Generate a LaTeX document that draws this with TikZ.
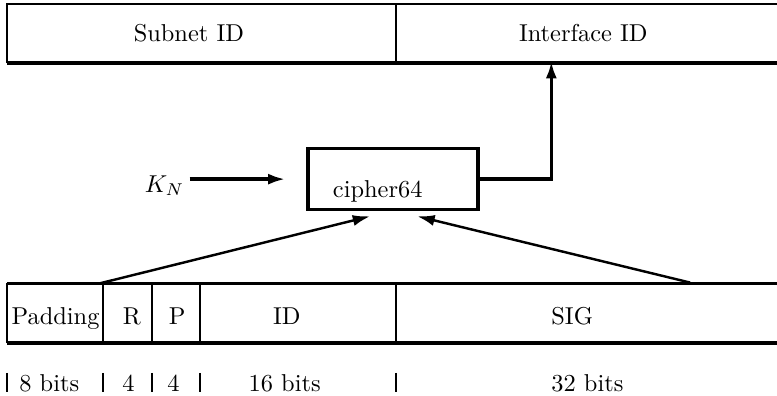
\documentclass[tikz,border=0pt]{standalone}
\usepackage{amsmath}
\usetikzlibrary{arrows.meta}

\begin{document}
\begin{tikzpicture}[
    font=\normalsize,
    >={Latex[length=2.5mm,width=1.6mm]},
    thinline/.style={line width=0.8pt},
    midline/.style={line width=1pt},
    thickline/.style={line width=1.4pt}
]
\useasboundingbox (0,0) rectangle (11.19,-5.69);

% Address - upper field (runs off the right edge)
\draw[thinline] (11.19,-0.06) -- (0.10,-0.06) -- (0.10,-0.91);
\draw[thickline] (0.10,-0.91) -- (11.19,-0.91);
\draw[thinline] (5.70,-0.06) -- (5.70,-0.91);
\node (subnet) at (2.72,-0.48) {Subnet ID};
\node (iface) at (8.40,-0.48) {Interface ID};
\coordinate (ifin) at (7.94,-0.88);

% Input fields - lower field
\draw[thickline] (0.10,-4.08) -- (11.19,-4.08);
\draw[thickline] (0.10,-4.94) -- (11.19,-4.94);
\foreach \x in {0.10,1.48,2.19,2.88,5.70}
    \draw[thinline] (\x,-4.08) -- (\x,-4.94);

\node[anchor=base] (pad) at (0.80,-4.67) {Padding};
\node[anchor=base] (rfield) at (1.90,-4.67) {R};
\node[anchor=base] (pfield) at (2.55,-4.67) {P};
\node[anchor=base] (idfield) at (4.13,-4.67) {ID};
\node[anchor=base] (sig) at (8.24,-4.67) {SIG};

% Bit widths
\foreach \x in {0.10,1.48,2.19,2.88,5.70}
    \draw[thinline] (\x,-5.37) -- (\x,-5.65);

\node[anchor=base] (b8) at (0.71,-5.64) {8 bits};
\node[anchor=base] (b4a) at (1.85,-5.64) {4};
\node[anchor=base] (b4b) at (2.50,-5.64) {4};
\node[anchor=base] (b16) at (4.10,-5.64) {16 bits};
\node[anchor=base] (b32) at (8.46,-5.64) {32 bits};

% Cipher block
\node[
draw,
thickline,
minimum width=2.45cm,
minimum height=0.88cm,
text width=1.73cm,
inner xsep=0.36cm,
inner ysep=0.05cm,
text height=0.57cm,
text depth=0.05cm,
align=left
] (cipher) at (5.66,-2.58) {cipher64};

% Key input
\node[inner sep=2pt, anchor=base] (kn) at (2.37,-2.77) {$K_N$};
\coordinate (kin) at (4.11,-2.58);
\draw[thickline,->] (kn.east |- kin) -- (kin);

% Arrows into and out of the cipher
\coordinate (padtop) at (1.44,-4.08);
\coordinate (sigtop) at (9.94,-4.07);
\draw[midline,->] (padtop) -- ([xshift=-0.33cm,yshift=-0.07cm]cipher.south);
\draw[midline,->] (sigtop) -- ([xshift=0.35cm,yshift=-0.07cm]cipher.south);
\draw[thickline,->] (cipher.east) -| (ifin);

\end{tikzpicture}
\end{document}
